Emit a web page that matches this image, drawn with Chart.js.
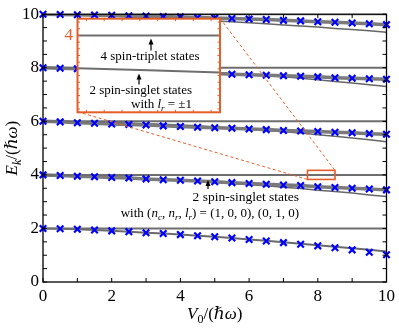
<!DOCTYPE html>
<html>
<head>
<meta charset="utf-8">
<script src="https://cdn.jsdelivr.net/npm/chart.js@4.4.0/dist/chart.umd.min.js"></script>
<style>
  body { margin: 0; background: #fff; }
  #wrap { position: relative; width: 399px; height: 328px; }
  #main { position: absolute; left: 0; top: 0; }
  #inset { position: absolute; left: 58px; top: 3.6px; }
</style>
</head>
<body>
<div id="wrap">
  <canvas id="main" width="399" height="328"></canvas>
  <canvas id="inset" width="170" height="123"></canvas>
</div>
<script>
// V0/(hbar w) sample points
const v0 = [0, 0.5, 1, 1.5, 2, 2.5, 3, 3.5, 4, 4.5, 5, 5.5, 6, 6.5, 7, 7.5, 8, 8.5, 9, 9.5, 10];

// unperturbed levels (flat lines)
const levels = [2, 4, 6, 8, 10];

// blue crosses
const marks2  = [2.00, 1.99, 1.97, 1.94, 1.91, 1.88, 1.84, 1.81, 1.77, 1.73, 1.69, 1.64, 1.59, 1.53, 1.47, 1.41, 1.35, 1.28, 1.20, 1.11, 1.02];
const marks4  = [4.00, 3.98, 3.95, 3.93, 3.90, 3.88, 3.85, 3.82, 3.80, 3.77, 3.74, 3.71, 3.68, 3.65, 3.62, 3.60, 3.56, 3.53, 3.50, 3.47, 3.44];
const marks6  = [6.00, 5.98, 5.95, 5.93, 5.90, 5.88, 5.86, 5.83, 5.81, 5.78, 5.76, 5.74, 5.71, 5.69, 5.66, 5.64, 5.62, 5.59, 5.57, 5.54, 5.52];
const marks8  = [8.00, 7.98, 7.96, 7.94, 7.91, 7.89, 7.87, 7.85, 7.83, 7.81, 7.79, 7.76, 7.74, 7.72, 7.70, 7.68, 7.66, 7.63, 7.61, 7.59, 7.57];
const marks10 = [10.00, 9.99, 9.98, 9.97, 9.96, 9.94, 9.93, 9.91, 9.90, 9.88, 9.86, 9.84, 9.82, 9.80, 9.77, 9.75, 9.72, 9.70, 9.67, 9.64, 9.61];

// grey curves
const curve2 = [2.00, 1.99, 1.97, 1.94, 1.91, 1.88, 1.84, 1.81, 1.77, 1.73, 1.69, 1.64, 1.59, 1.54, 1.48, 1.43, 1.37, 1.32, 1.26, 1.20, 1.14];
const low4  = [4.00, 3.98, 3.96, 3.94, 3.92, 3.89, 3.86, 3.83, 3.80, 3.76, 3.72, 3.68, 3.63, 3.59, 3.54, 3.49, 3.43, 3.38, 3.32, 3.25, 3.19];
const low6  = [6.00, 5.99, 5.98, 5.97, 5.96, 5.94, 5.91, 5.89, 5.86, 5.83, 5.79, 5.75, 5.71, 5.66, 5.61, 5.56, 5.50, 5.44, 5.38, 5.31, 5.24];
const low8  = [8.00, 8.00, 7.99, 7.98, 7.97, 7.96, 7.94, 7.91, 7.89, 7.86, 7.83, 7.79, 7.75, 7.70, 7.66, 7.61, 7.55, 7.49, 7.43, 7.37, 7.30];
const low10 = [10.00, 9.98, 9.96, 9.94, 9.92, 9.90, 9.87, 9.84, 9.81, 9.78, 9.75, 9.72, 9.68, 9.64, 9.60, 9.56, 9.52, 9.47, 9.43, 9.38, 9.33];

// zoomed window around E = 4
const zoomX = [7.7, 8.5];
const zoomY = [3.83, 4.17];
const insetX = [7.7, 8.1, 8.5];
const insetTriplet = [4.0, 4.0, 4.0];
const insetSinglet = [3.9902, 3.9896, 3.9889];
const insetYRange = [3.977, 4.005];

// tick positions
const xMinor = [0,1,2,3,4,5,6,7,8,9,10];
const yMinor = [0,0.5,1,1.5,2,2.5,3,3.5,4,4.5,5,5.5,6,6.5,7,7.5,8,8.5,9,9.5,10];
const insetXMinor = [7.75, 7.85, 7.95, 8.05, 8.15, 8.25, 8.35, 8.45];
const insetYMinor = [3.978, 3.980, 3.982, 3.984, 3.986, 3.988, 3.990, 3.992, 3.994, 3.996, 3.998, 4.000, 4.002, 4.004];

const ORANGE = '#e35f2a';
const SERIF = "'Liberation Serif', 'DejaVu Serif', serif";

function pts(xs, ys) {
  return xs.map((v, i) => ({x: v, y: ys[i]}));
}

function lineSet(ys, color, width) {
  return { data: pts(v0, ys), borderColor: color, borderWidth: width, pointRadius: 0, order: 1, showLine: true, fill: false };
}
function markSet(ys) {
  return { data: pts(v0, ys), showLine: false, pointStyle: 'crossRot', pointRadius: 4.6,
    pointBorderWidth: 2.2, borderColor: '#0000ff', backgroundColor: '#0000ff', order: 0, clip: false };
}

var datasets = [];
levels.forEach(l => datasets.push(lineSet(v0.map(() => l), '#6e6e6e', 2)));
[marks4, marks6, marks8, marks10].forEach(m => datasets.push(lineSet(m, '#7a7a7a', 3.5)));
datasets.push(lineSet(curve2, '#6a6a6a', 2));
[low4, low6, low8, low10].forEach(m => datasets.push(lineSet(m, '#666', 1.5)));
[marks2, marks4, marks6, marks8, marks10].forEach(m => datasets.push(markSet(m)));

// text with italic / subscript pieces
function richText(ctx, segs, x, y, size, align) {
  const font = (s) => (s.it ? 'italic ' : '') + (s.sub ? Math.round(size * 0.7) : size) + 'px ' + SERIF;
  let w = 0;
  segs.forEach(s => { ctx.font = font(s); w += ctx.measureText(s.t).width; });
  let cx = align === 'right' ? x - w : align === 'center' ? x - w / 2 : x;
  ctx.textBaseline = 'alphabetic';
  ctx.textAlign = 'left';
  segs.forEach(s => {
    ctx.font = font(s);
    ctx.fillText(s.t, cx, s.sub ? y + size * 0.22 : y);
    cx += ctx.measureText(s.t).width;
  });
}

function arrowUp(ctx, x, y0, y1) {
  ctx.beginPath();
  ctx.moveTo(x, y0); ctx.lineTo(x, y1 + 4);
  ctx.lineWidth = 1.2; ctx.strokeStyle = '#000'; ctx.stroke();
  ctx.beginPath();
  ctx.moveTo(x, y1); ctx.lineTo(x - 2.5, y1 + 6); ctx.lineTo(x + 2.5, y1 + 6); ctx.closePath();
  ctx.fillStyle = '#000'; ctx.fill();
}

function drawFrame(chart, color, lw, xs, ys, len) {
  const {ctx, chartArea: a, scales} = chart;
  ctx.save();
  ctx.strokeStyle = color;
  ctx.lineWidth = lw;
  ctx.strokeRect(a.left, a.top, a.right - a.left, a.bottom - a.top);
  ctx.beginPath();
  xs.forEach(v => {
    const p = scales.x.getPixelForValue(v);
    ctx.moveTo(p, a.bottom); ctx.lineTo(p, a.bottom - len);
    ctx.moveTo(p, a.top); ctx.lineTo(p, a.top + len);
  });
  ys.forEach(v => {
    const p = scales.y.getPixelForValue(v);
    ctx.moveTo(a.left, p); ctx.lineTo(a.left + len, p);
    ctx.moveTo(a.right, p); ctx.lineTo(a.right - len, p);
  });
  ctx.lineWidth = 1;
  ctx.stroke();
  ctx.restore();
}

const mainDecor = {
  id: 'mainDecor',
  afterDatasetsDraw(chart) {
    const {ctx, scales: {x, y}} = chart;
    const rx0 = x.getPixelForValue(zoomX[0]), rx1 = x.getPixelForValue(zoomX[1]);
    const ry0 = y.getPixelForValue(zoomY[1]), ry1 = y.getPixelForValue(zoomY[0]);
    ctx.save();
    // blank area under the inset
    ctx.fillStyle = '#fff';
    ctx.fillRect(77.5, 18.3, 142.5, 93.4);
    ctx.strokeStyle = ORANGE;
    ctx.lineWidth = 1;
    ctx.setLineDash([3, 2.5]);
    ctx.beginPath();
    ctx.moveTo(77.5, 111.7); ctx.lineTo(rx0, ry1);
    ctx.moveTo(220, 18.3); ctx.lineTo(rx1, ry0);
    ctx.stroke();
    ctx.setLineDash([]);
    ctx.lineWidth = 1.6;
    ctx.strokeRect(rx0, ry0, rx1 - rx0, ry1 - ry0);
    ctx.restore();
  },
  afterDraw(chart) {
    const {ctx, chartArea: a} = chart;
    drawFrame(chart, '#000', 1.3, xMinor, yMinor, 4);
    ctx.save();
    ctx.fillStyle = '#000';
    richText(ctx, [{t: '2 spin-singlet states'}], 299, 201, 13.5, 'right');
    richText(ctx, [{t: 'with ('}, {t: 'n', it: true}, {t: 'c', it: true, sub: true}, {t: ', '},
      {t: 'n', it: true}, {t: 'r', it: true, sub: true}, {t: ', '},
      {t: 'l', it: true}, {t: 'r', it: true, sub: true}, {t: ') = (1, 0, 0), (0, 1, 0)'}], 299, 217, 13, 'right');
    arrowUp(ctx, 208, 189, 180);
    ctx.fillStyle = '#000';
    // x title
    richText(ctx, [{t: 'V', it: true}, {t: '0', sub: true}, {t: '/('}, {t: 'ℏω', it: true}, {t: ')'}],
      (a.left + a.right) / 2, 319, 17, 'center');
    // y title
    ctx.translate(17, (a.top + a.bottom) / 2);
    ctx.rotate(-Math.PI / 2);
    richText(ctx, [{t: 'E', it: true}, {t: 'k', it: true, sub: true}, {t: '/('}, {t: 'ℏω', it: true}, {t: ')'}],
      0, 0, 17, 'center');
    ctx.restore();
  }
};

new Chart(document.getElementById('main'), {
  type: 'line',
  data: { datasets: datasets },
  options: {
    responsive: false,
    animation: false,
    devicePixelRatio: 1,
    layout: { padding: { top: 10, right: 9, left: 0, bottom: 0 }, autoPadding: false },
    plugins: { legend: { display: false }, tooltip: { enabled: false } },
    elements: { line: { tension: 0 } },
    scales: {
      x: {
        type: 'linear', min: 0, max: 10,
        ticks: { stepSize: 2, color: '#000', padding: 4, font: { family: SERIF, size: 17 } },
        grid: { display: false, drawTicks: false, tickLength: 0 },
        border: { display: false },
        afterFit(s) { s.height = 46; }
      },
      y: {
        min: 0, max: 10,
        ticks: { stepSize: 2, color: '#000', padding: 4, font: { family: SERIF, size: 17 } },
        grid: { display: false, drawTicks: false, tickLength: 0 },
        border: { display: false },
        afterFit(s) { s.width = 43; }
      }
    }
  },
  plugins: [mainDecor]
});

// inset canvas sits at page offset (58, 3.6)
const insetDecor = {
  id: 'insetDecor',
  afterDraw(chart) {
    const {ctx} = chart;
    drawFrame(chart, ORANGE, 2, insetXMinor, insetYMinor, 2.5);
    ctx.save();
    ctx.fillStyle = '#000';
    richText(ctx, [{t: '4 spin-triplet states'}], 92, 56.4, 13, 'center');
    arrowUp(ctx, 93, 46.4, 34.6);
    ctx.fillStyle = '#000';
    richText(ctx, [{t: '2 spin-singlet states'}], 134, 90.4, 13, 'right');
    richText(ctx, [{t: 'with '}, {t: 'l', it: true}, {t: 'r', it: true, sub: true}, {t: ' = ±1'}], 134, 103.9, 13, 'right');
    arrowUp(ctx, 81, 80.4, 69.6);
    ctx.restore();
  }
};

new Chart(document.getElementById('inset'), {
  type: 'scatter',
  data: {
    datasets: [
      { data: pts(insetX, insetTriplet), showLine: true, borderColor: '#6e6e6e', borderWidth: 2, pointRadius: 0 },
      { data: pts(insetX, insetSinglet), showLine: true, borderColor: '#6e6e6e', borderWidth: 2, pointRadius: 0 }
    ]
  },
  options: {
    responsive: false,
    animation: false,
    devicePixelRatio: 1,
    layout: { padding: { top: 1, right: 8, left: 0, bottom: 1 }, autoPadding: false },
    plugins: { legend: { display: false }, tooltip: { enabled: false } },
    scales: {
      x: {
        type: 'linear', min: insetX[0], max: insetX[insetX.length - 1],
        ticks: { display: false },
        grid: { display: false, drawTicks: false, tickLength: 0 },
        border: { display: false },
        afterFit(s) { s.height = 0; }
      },
      y: {
        type: 'linear', min: insetYRange[0], max: insetYRange[1],
        ticks: { color: ORANGE, padding: 4.5, font: { family: SERIF, size: 17 } },
        afterBuildTicks(s) { s.ticks = [{ value: 4 }]; },
        grid: { display: false, drawTicks: false, tickLength: 0 },
        border: { display: false },
        afterFit(s) { s.width = 19.5; }
      }
    }
  },
  plugins: [insetDecor]
});
</script>
</body>
</html>
